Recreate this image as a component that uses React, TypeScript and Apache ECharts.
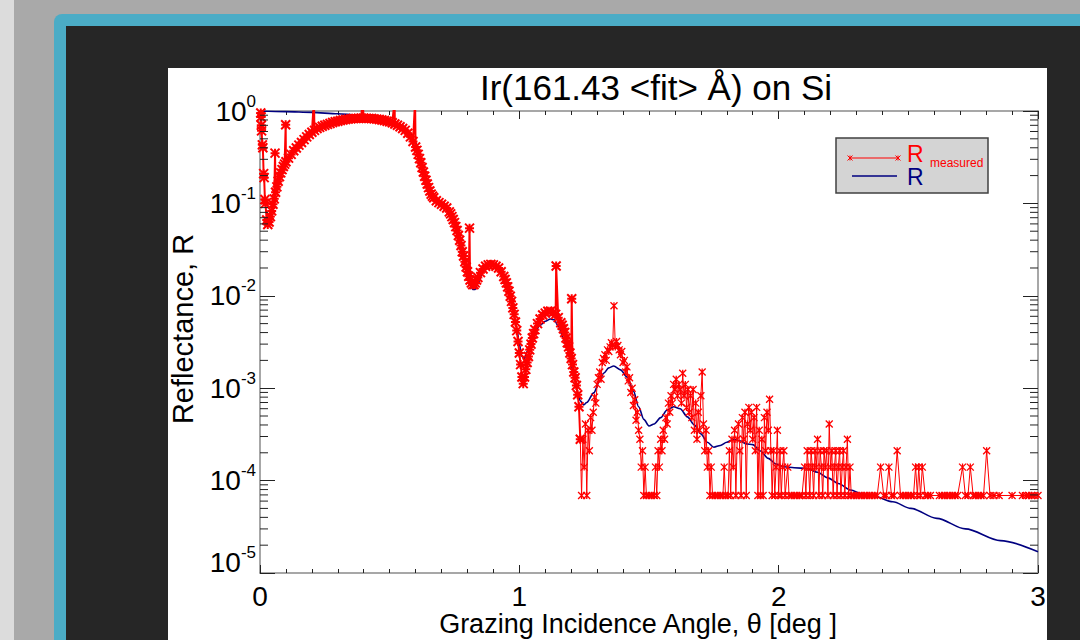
import React, { useEffect, useRef } from 'react';
import * as echarts from 'echarts';

const titleText = 'Ir(161.43 <fit> Å) on Si';
const xAxisName = 'Grazing Incidence Angle, θ [deg ]';
const yAxisName = 'Reflectance, R';
const legendMeasured = 'R';
const legendMeasuredSub = 'measured';
const legendFit = 'R';

// measured reflectance [theta (deg), R] — smooth part
const measuredEdge: number[][] = [
  [0.003, 0.95], [0.004, 0.86], [0.005, 0.70], [0.006, 0.61], [0.009, 0.43], [0.011, 0.40],
  [0.014, 0.21], [0.016, 0.19], [0.019, 0.11], [0.021, 0.10], [0.026, 0.066], [0.030, 0.059],
];
const measuredRise: number[][] = [
  [0.035, 0.063], [0.04, 0.072], [0.045, 0.083], [0.05, 0.098], [0.055, 0.112], [0.06, 0.132],
  [0.065, 0.151], [0.07, 0.174], [0.075, 0.195], [0.08, 0.214], [0.085, 0.232], [0.09, 0.251],
  [0.095, 0.266], [0.10, 0.282], [0.11, 0.309], [0.12, 0.339], [0.13, 0.372], [0.14, 0.398],
  [0.15, 0.427], [0.16, 0.457], [0.17, 0.490], [0.18, 0.525], [0.19, 0.556], [0.20, 0.589],
  [0.21, 0.617], [0.22, 0.646], [0.23, 0.665], [0.24, 0.684], [0.25, 0.700], [0.26, 0.716],
  [0.27, 0.733], [0.28, 0.750], [0.29, 0.764], [0.30, 0.776], [0.31, 0.789], [0.32, 0.800],
  [0.33, 0.809], [0.34, 0.817], [0.35, 0.822], [0.36, 0.828], [0.37, 0.832], [0.38, 0.834],
  [0.39, 0.836], [0.40, 0.836], [0.41, 0.834], [0.42, 0.832], [0.43, 0.828], [0.44, 0.822],
  [0.45, 0.817], [0.46, 0.809], [0.47, 0.800], [0.48, 0.789], [0.49, 0.776], [0.50, 0.762],
  [0.51, 0.745], [0.52, 0.724], [0.53, 0.700], [0.54, 0.676], [0.55, 0.646], [0.56, 0.617],
  [0.57, 0.575], [0.58, 0.525], [0.59, 0.468], [0.60, 0.407],
];
const measuredSpikes: number[][] = [
  [0.058, 0.35], [0.099, 0.71], [0.208, 1.3], [0.395, 1.3], [0.519, 1.3], [0.598, 1.3],
  [0.808, 0.054], [1.142, 0.021], [1.202, 0.0093],
];
const measuredFringes: number[][] = [
  [0.605, 0.375], [0.61, 0.339], [0.615, 0.305], [0.62, 0.275], [0.625, 0.245], [0.63, 0.219],
  [0.635, 0.197], [0.64, 0.178], [0.645, 0.162], [0.65, 0.148], [0.655, 0.136], [0.66, 0.126],
  [0.665, 0.120], [0.67, 0.115], [0.68, 0.107], [0.69, 0.102], [0.70, 0.098], [0.71, 0.093],
  [0.72, 0.089], [0.73, 0.081], [0.735, 0.077], [0.74, 0.072], [0.745, 0.067], [0.75, 0.062],
  [0.755, 0.056], [0.76, 0.051], [0.765, 0.045], [0.77, 0.040], [0.775, 0.035], [0.78, 0.030],
  [0.785, 0.027], [0.79, 0.0234], [0.795, 0.0205], [0.80, 0.0182], [0.805, 0.0163], [0.81, 0.0148],
  [0.815, 0.0138], [0.82, 0.0132], [0.825, 0.0132], [0.83, 0.0138], [0.835, 0.0148], [0.84, 0.0158],
  [0.85, 0.0178], [0.86, 0.0195], [0.87, 0.0209], [0.88, 0.0216], [0.89, 0.0219], [0.90, 0.0216],
  [0.91, 0.0209], [0.92, 0.0200], [0.93, 0.0182], [0.94, 0.0162], [0.945, 0.0150], [0.95, 0.0138],
  [0.955, 0.0125], [0.96, 0.0112], [0.965, 0.0099], [0.97, 0.0087], [0.975, 0.0074], [0.98, 0.0063],
  [0.985, 0.0052], [0.99, 0.0042], [0.995, 0.0032], [1.00, 0.0024], [1.005, 0.0018], [1.01, 0.00132],
  [1.015, 0.00112], [1.02, 0.00132], [1.025, 0.0016], [1.03, 0.0019], [1.035, 0.0022], [1.04, 0.0026],
  [1.045, 0.0030], [1.05, 0.0035], [1.055, 0.0039], [1.06, 0.0043], [1.07, 0.0050], [1.08, 0.0056],
  [1.09, 0.0062], [1.10, 0.0065], [1.11, 0.0068], [1.12, 0.0068], [1.13, 0.0066], [1.14, 0.0063],
  [1.15, 0.0058], [1.16, 0.0051], [1.165, 0.0048], [1.17, 0.0044], [1.175, 0.0040], [1.18, 0.0035],
  [1.185, 0.0031], [1.19, 0.0028], [1.195, 0.0024], [1.20, 0.0021], [1.205, 0.0018], [1.21, 0.0015],
  [1.215, 0.0013], [1.22, 0.00107], [1.225, 0.00085], [1.23, 0.00063], [1.235, 0.00028],
];
// measured reflectance [theta (deg), R] — noisy part (count-limited)
const measuredNoisy: number[][] = [
  [1.235, 0.00028],
  [1.24, 6.9e-5], [1.245, 2.8e-4], [1.25, 1.4e-4], [1.255, 4.1e-4], [1.26, 6.9e-5], [1.265, 3.5e-4],
  [1.27, 2.1e-4], [1.275, 4.8e-4], [1.28, 3.5e-4], [1.285, 5.5e-4], [1.29, 8.0e-4], [1.295, 6.9e-4],
  [1.30, 1.1e-3], [1.305, 1.3e-3], [1.31, 1.5e-3], [1.315, 1.25e-3], [1.32, 1.9e-3], [1.325, 2.1e-3],
  [1.33, 2.3e-3], [1.335, 2.0e-3], [1.34, 2.6e-3], [1.345, 2.5e-3], [1.35, 2.8e-3], [1.355, 3.1e-3],
  [1.36, 2.9e-3], [1.365, 7.8e-3], [1.37, 2.8e-3], [1.375, 3.2e-3], [1.38, 2.9e-3], [1.385, 2.6e-3],
  [1.39, 2.3e-3], [1.395, 2.5e-3], [1.40, 1.9e-3], [1.405, 2.0e-3], [1.41, 1.5e-3], [1.415, 1.7e-3],
  [1.42, 1.2e-3], [1.425, 1.3e-3], [1.43, 9.0e-4], [1.435, 1.0e-3], [1.44, 6.5e-4], [1.445, 7.5e-4],
  [1.45, 4.5e-4], [1.455, 5.5e-4], [1.46, 3.5e-4], [1.465, 2.8e-4], [1.47, 1.4e-4], [1.475, 2.1e-4],
  [1.48, 6.9e-5], [1.485, 1.4e-4], [1.49, 6.9e-5], [1.50, 6.9e-5], [1.51, 6.9e-5], [1.52, 6.9e-5],
  [1.525, 1.4e-4], [1.53, 6.9e-5], [1.535, 2.1e-4], [1.54, 1.4e-4], [1.545, 2.8e-4], [1.55, 2.1e-4],
  [1.555, 3.5e-4], [1.56, 2.8e-4], [1.565, 4.8e-4], [1.57, 4.1e-4], [1.575, 6.9e-4], [1.58, 5.5e-4],
  [1.585, 8.3e-4], [1.59, 6.9e-4], [1.595, 1.1e-3], [1.60, 9.7e-4], [1.605, 1.25e-3], [1.61, 8.3e-4],
  [1.615, 1.1e-3], [1.62, 9.7e-4], [1.625, 6.9e-4], [1.63, 1.45e-3], [1.635, 8.3e-4], [1.64, 1.1e-3],
  [1.645, 6.2e-4], [1.65, 9.7e-4], [1.655, 5.5e-4], [1.66, 8.3e-4], [1.665, 4.8e-4], [1.67, 9.7e-4],
  [1.675, 3.5e-4], [1.68, 6.9e-4], [1.685, 2.8e-4], [1.69, 5.5e-4], [1.695, 3.5e-4], [1.70, 8.3e-4],
  [1.705, 1.5e-3], [1.71, 4.1e-4], [1.715, 2.1e-4], [1.72, 3.5e-4], [1.725, 1.4e-4], [1.73, 2.1e-4],
  [1.735, 6.9e-5], [1.74, 1.4e-4], [1.745, 6.9e-5], [1.755, 6.9e-5], [1.765, 6.9e-5], [1.775, 6.9e-5],
  [1.785, 6.9e-5], [1.79, 1.4e-4], [1.795, 6.9e-5], [1.805, 6.9e-5], [1.81, 2.1e-4], [1.815, 6.9e-5],
  [1.82, 2.8e-4], [1.825, 1.4e-4], [1.83, 3.5e-4], [1.835, 6.9e-5], [1.84, 2.8e-4], [1.845, 4.1e-4],
  [1.85, 2.1e-4], [1.855, 6.9e-5], [1.86, 4.8e-4], [1.865, 2.8e-4], [1.87, 5.5e-4], [1.875, 6.9e-5],
  [1.88, 4.1e-4], [1.885, 6.2e-4], [1.89, 3.5e-4], [1.895, 5.5e-4], [1.90, 2.8e-4], [1.905, 4.8e-4],
  [1.91, 2.1e-4], [1.915, 6.2e-4], [1.92, 6.9e-5], [1.925, 3.5e-4], [1.93, 6.9e-5], [1.935, 2.8e-4],
  [1.94, 6.9e-5], [1.945, 4.8e-4], [1.95, 2.1e-4], [1.955, 5.5e-4], [1.96, 3.5e-4], [1.965, 7.6e-4],
  [1.97, 2.1e-4], [1.975, 6.9e-5], [1.98, 2.1e-4], [1.985, 6.9e-5], [1.99, 1.4e-4], [1.995, 3.5e-4],
  [2.00, 6.9e-5], [2.005, 2.1e-4], [2.01, 6.9e-5], [2.015, 1.4e-4], [2.02, 2.1e-4], [2.025, 6.9e-5],
  [2.035, 1.4e-4], [2.04, 6.9e-5], [2.05, 6.9e-5], [2.06, 6.9e-5], [2.07, 6.9e-5], [2.08, 6.9e-5],
  [2.09, 6.9e-5], [2.10, 1.4e-4], [2.105, 6.9e-5], [2.11, 2.1e-4], [2.115, 1.4e-4], [2.12, 6.9e-5],
  [2.125, 2.1e-4], [2.13, 1.4e-4], [2.135, 6.9e-5], [2.14, 2.1e-4], [2.145, 1.4e-4], [2.15, 2.8e-4],
  [2.155, 6.9e-5], [2.16, 2.1e-4], [2.165, 1.4e-4], [2.17, 6.9e-5], [2.175, 2.1e-4], [2.18, 1.4e-4],
  [2.185, 2.1e-4], [2.19, 6.9e-5], [2.195, 4.1e-4], [2.20, 1.4e-4], [2.205, 2.1e-4], [2.21, 6.9e-5],
  [2.215, 1.4e-4], [2.22, 2.1e-4], [2.225, 6.9e-5], [2.23, 1.4e-4], [2.235, 2.1e-4], [2.24, 6.9e-5],
  [2.245, 1.4e-4], [2.25, 2.1e-4], [2.255, 6.9e-5], [2.26, 1.4e-4], [2.265, 2.8e-4], [2.27, 6.9e-5],
  [2.275, 1.4e-4], [2.28, 6.9e-5], [2.29, 6.9e-5], [2.30, 6.9e-5], [2.31, 6.9e-5], [2.32, 6.9e-5],
  [2.33, 6.9e-5], [2.34, 6.9e-5], [2.35, 6.9e-5], [2.36, 6.9e-5], [2.37, 6.9e-5], [2.38, 6.9e-5],
  [2.393, 1.4e-4], [2.405, 6.9e-5], [2.415, 6.9e-5], [2.425, 1.4e-4], [2.435, 6.9e-5], [2.445, 6.9e-5],
  [2.457, 2.1e-4], [2.47, 6.9e-5], [2.48, 6.9e-5], [2.49, 6.9e-5], [2.50, 6.9e-5], [2.51, 6.9e-5],
  [2.52, 6.9e-5], [2.528, 1.4e-4], [2.535, 6.9e-5], [2.54, 1.4e-4], [2.547, 6.9e-5], [2.554, 1.4e-4],
  [2.565, 6.9e-5], [2.575, 6.9e-5], [2.585, 6.9e-5], [2.62, 6.9e-5], [2.63, 6.9e-5], [2.64, 6.9e-5],
  [2.65, 6.9e-5], [2.66, 6.9e-5], [2.67, 6.9e-5], [2.68, 6.9e-5], [2.69, 6.9e-5], [2.709, 1.4e-4],
  [2.72, 6.9e-5], [2.73, 6.9e-5], [2.739, 1.4e-4], [2.75, 6.9e-5], [2.76, 6.9e-5], [2.77, 6.9e-5],
  [2.78, 6.9e-5], [2.79, 6.9e-5], [2.802, 2.1e-4], [2.815, 6.9e-5], [2.83, 6.9e-5], [2.85, 6.9e-5],
  [2.90, 6.9e-5], [2.94, 6.9e-5], [2.955, 6.9e-5], [2.965, 6.9e-5], [2.975, 6.9e-5], [2.985, 6.9e-5],
  [3.0, 6.9e-5],
];

// fitted reflectance [theta (deg), R]
const fitCurve: number[][] = [
  [0.0, 1.0], [0.10, 0.984], [0.20, 0.966], [0.30, 0.933], [0.37, 0.905], [0.40, 0.871],
  [0.45, 0.841], [0.50, 0.794], [0.55, 0.692], [0.58, 0.575], [0.60, 0.457], [0.62, 0.302],
  [0.64, 0.186], [0.66, 0.126], [0.68, 0.107], [0.70, 0.098], [0.72, 0.089], [0.74, 0.074],
  [0.76, 0.052], [0.78, 0.030], [0.80, 0.0174], [0.81, 0.0136], [0.82, 0.0117], [0.83, 0.0117],
  [0.84, 0.0136], [0.86, 0.0182], [0.88, 0.0214], [0.895, 0.0219], [0.91, 0.0209], [0.94, 0.0166],
  [0.97, 0.0089], [0.99, 0.0045], [1.00, 0.0030], [1.01, 0.0022], [1.02, 0.0021], [1.03, 0.0025],
  [1.05, 0.0035], [1.08, 0.0048], [1.10, 0.0053], [1.12, 0.0056], [1.135, 0.0055], [1.15, 0.0047],
  [1.17, 0.0035], [1.19, 0.0025], [1.21, 0.0014], [1.225, 0.00089], [1.235, 0.00073], [1.248, 0.00066],
  [1.26, 0.00070], [1.287, 0.00089], [1.31, 0.0012], [1.325, 0.00145], [1.345, 0.00166],
  [1.364, 0.00174], [1.39, 0.00158], [1.416, 0.00132], [1.44, 0.00093], [1.46, 0.00063],
  [1.48, 0.00046], [1.50, 0.00039], [1.52, 0.00041], [1.545, 0.00048], [1.57, 0.00058],
  [1.595, 0.00063], [1.62, 0.00060], [1.648, 0.00049], [1.675, 0.00040], [1.70, 0.00032],
  [1.725, 0.00026], [1.75, 0.00023], [1.775, 0.00024], [1.80, 0.00026], [1.826, 0.00028],
  [1.85, 0.00027], [1.875, 0.00025], [1.90, 0.000245], [1.93, 0.000209], [1.96, 0.000174],
  [1.99, 0.000151], [2.02, 0.000141], [2.06, 0.000138], [2.11, 0.000135], [2.15, 0.000123],
  [2.19, 0.000107], [2.23, 0.000093], [2.278, 0.000079], [2.32, 0.000072], [2.367, 0.000068],
  [2.44, 0.000059], [2.51, 0.000050], [2.61, 0.000039], [2.72, 0.000030], [2.855, 0.0000224],
  [3.0, 0.000017],
];

// log-axis minor tick positions
const minorMultipliers = [2, 3, 4, 5, 6, 7, 8, 9];
const decadeStarts = [1e-5, 1e-4, 1e-3, 1e-2, 1e-1];

const FONT = 'Liberation Sans, Arial, Helvetica, sans-serif';
const RED = '#ff0000';
const NAVY = '#000080';
const ASTERISK = 'path://M0,0L10,10M10,0L0,10M5,0L5,10';
const ASTERISK_FULL = 'path://M0,0L10,10M10,0L0,10M5,0L5,10M0,5L10,5';

function asterisk(cx: number, cy: number, color: string) {
  const r = 2.5;
  return [
    { type: 'line', shape: { x1: cx - r, y1: cy - r, x2: cx + r, y2: cy + r }, style: { stroke: color, lineWidth: 1 } },
    { type: 'line', shape: { x1: cx + r, y1: cy - r, x2: cx - r, y2: cy + r }, style: { stroke: color, lineWidth: 1 } },
    { type: 'line', shape: { x1: cx, y1: cy - r, x2: cx, y2: cy + r }, style: { stroke: color, lineWidth: 1 } },
  ];
}

export default function App() {
  const ref = useRef<HTMLDivElement>(null);
  useEffect(() => {
    if (!ref.current) return;
    const chart = echarts.init(ref.current, null, { renderer: 'svg' });
    const measuredSmooth = [
      ...measuredEdge, ...measuredRise, ...measuredSpikes, ...measuredFringes,
    ].sort((a, b) => a[0] - b[0]);
    const minorTicks: number[][] = [];
    decadeStarts.forEach((d) => minorMultipliers.forEach((m) => minorTicks.push([0, m * d])));

    const axisLineStyle = { color: '#8a8a8a', width: 1.5 };
    const tickStyle = { color: '#222', width: 1 };
    const xAxisBase = {
      type: 'value', min: 0, max: 3, interval: 1,
      axisLine: { show: true, onZero: false, lineStyle: axisLineStyle },
      axisTick: { show: true, inside: true, length: 8, lineStyle: tickStyle },
      minorTick: { show: true, splitNumber: 10, length: 4, lineStyle: tickStyle },
      splitLine: { show: false }, minorSplitLine: { show: false },
    };
    const yAxisBase = {
      type: 'log', logBase: 10, min: 1e-5, max: 1,
      axisLine: { show: true, onZero: false, lineStyle: axisLineStyle },
      axisTick: { show: true, inside: true, length: 15, lineStyle: tickStyle },
      splitLine: { show: false },
    };

    chart.setOption({
      animation: false,
      backgroundColor: '#ffffff',
      title: {
        text: titleText, left: 488, top: 2, textAlign: 'center', padding: 0,
        textStyle: { fontFamily: FONT, fontSize: 35, fontWeight: 'normal', color: '#000' },
      },
      grid: { left: 92, right: 9, top: 43, bottom: 67, containLabel: false, outerBoundsMode: 'none' },
      xAxis: [
        {
          ...xAxisBase, position: 'bottom',
          axisLabel: { show: true, fontFamily: FONT, fontSize: 28, color: '#000', margin: 9 },
          name: xAxisName, nameLocation: 'middle', nameGap: 51, nameMoveOverlap: false,
          nameTextStyle: { fontFamily: FONT, fontSize: 27, color: '#000', verticalAlign: 'middle', padding: [0, 22, 0, 0] },
        },
        { ...xAxisBase, position: 'top', axisLabel: { show: false } },
      ],
      yAxis: [
        {
          ...yAxisBase, position: 'left',
          axisLabel: {
            show: true, margin: 4,
            formatter: (v: number) => {
              const e = Math.round(Math.log10(v));
              if (e === -5) return `{bm|10}{sm|${e}}`;
              return `{b|10}{s|${e}}`;
            },
            rich: {
              b: { fontFamily: FONT, fontSize: 28, color: '#000' },
              s: { fontFamily: FONT, fontSize: 17, color: '#000', padding: [0, 0, 20, 0] },
              bm: { fontFamily: FONT, fontSize: 28, color: '#000', padding: [0, 0, 22, 0] },
              sm: { fontFamily: FONT, fontSize: 17, color: '#000', padding: [0, 0, 42, 0] },
            },
          },
          name: yAxisName, nameLocation: 'middle', nameGap: 77, nameRotate: 90, nameMoveOverlap: false,
          nameTextStyle: { fontFamily: FONT, fontSize: 29, color: '#000', verticalAlign: 'middle', padding: [0, 0, 0, 26] },
        },
        { ...yAxisBase, position: 'right', axisLabel: { show: false } },
      ],
      graphic: [
        {
          type: 'group', z: 100, children: [
            { type: 'rect', shape: { x: 668, y: 70, width: 152, height: 55 }, style: { fill: '#d4d4d4', stroke: '#404040', lineWidth: 1.5 } },
            { type: 'line', shape: { x1: 682, y1: 90, x2: 730, y2: 90 }, style: { stroke: RED, lineWidth: 1 } },
            ...asterisk(682, 90, RED),
            ...asterisk(730, 90, RED),
            { type: 'text', x: 739, y: 85.5, style: { text: legendMeasured, fill: RED, fontFamily: FONT, fontSize: 23, verticalAlign: 'middle' } },
            { type: 'text', x: 762, y: 95, style: { text: legendMeasuredSub, fill: RED, fontFamily: FONT, fontSize: 12, verticalAlign: 'middle' } },
            { type: 'line', shape: { x1: 684, y1: 108, x2: 729, y2: 108 }, style: { stroke: NAVY, lineWidth: 1.5 } },
            { type: 'text', x: 739, y: 109, style: { text: legendFit, fill: NAVY, fontFamily: FONT, fontSize: 23, verticalAlign: 'middle' } },
          ],
        },
      ],
      series: [
        {
          name: 'R fit', type: 'line', data: fitCurve, showSymbol: false, smooth: 0.3, smoothMonotone: 'x',
          lineStyle: { color: NAVY, width: 1.6 }, itemStyle: { color: NAVY }, z: 2, silent: true,
          emphasis: { disabled: true },
        },
        {
          name: 'R measured', type: 'line', data: measuredSmooth, symbol: ASTERISK_FULL, symbolSize: 9, showAllSymbol: true,
          lineStyle: { color: RED, width: 2 },
          itemStyle: { color: RED, borderColor: RED, borderWidth: 2 },
          z: 3, silent: true, emphasis: { disabled: true },
        },
        {
          name: 'R measured (noise floor)', type: 'line', data: measuredNoisy, symbol: ASTERISK, symbolSize: 7, showAllSymbol: true,
          lineStyle: { color: RED, width: 1 },
          itemStyle: { color: RED, borderColor: RED, borderWidth: 1.3 },
          z: 3, silent: true, emphasis: { disabled: true },
        },
        {
          name: 'minor ticks', type: 'custom', data: minorTicks, silent: true, z: 4, clip: false,
          renderItem: (params: any, api: any) => {
            const y = api.coord([0, api.value(1)])[1];
            const cs = params.coordSys;
            return {
              type: 'group', children: [
                { type: 'line', shape: { x1: cs.x, y1: y, x2: cs.x + 8, y2: y }, style: { stroke: '#222', lineWidth: 1 } },
                { type: 'line', shape: { x1: cs.x + cs.width - 8, y1: y, x2: cs.x + cs.width, y2: y }, style: { stroke: '#222', lineWidth: 1 } },
              ],
            };
          },
        },
      ],
    });
    return () => chart.dispose();
  }, []);

  return (
    <div style={{ position: 'fixed', left: 0, top: 0, width: 1080, height: 640, background: '#a9a9a9', overflow: 'hidden' }}>
      <div style={{ position: 'absolute', left: 0, top: 0, width: 14, height: 640, background: '#dcdcdc' }} />
      <div style={{ position: 'absolute', left: 54, top: 14, width: 1100, height: 700, background: '#4bacc6', borderRadius: 8 }} />
      <div style={{ position: 'absolute', left: 66, top: 26, width: 1100, height: 700, background: '#262626' }} />
      <div ref={ref} style={{ position: 'absolute', left: 168, top: 68, width: 879, height: 572, background: '#ffffff' }} />
    </div>
  );
}
